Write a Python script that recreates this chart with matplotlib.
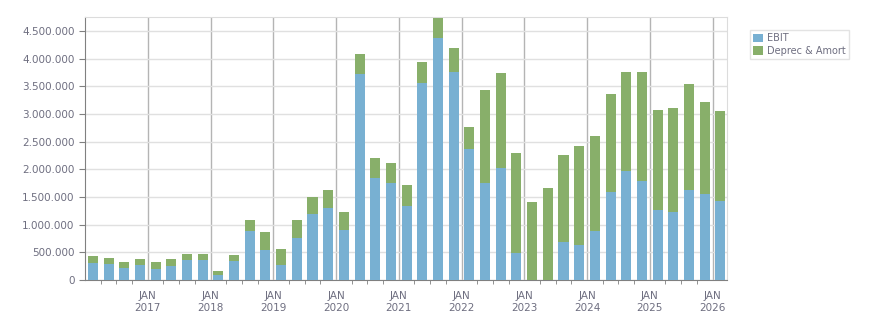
import matplotlib.pyplot as plt
from matplotlib.ticker import FuncFormatter, MultipleLocator
import numpy as np

# quarters Q1 2016 .. Q1 2026
years = [2016] * 4 + [2017] * 4 + [2018] * 4 + [2019] * 4 + [2020] * 4 + \
        [2021] * 4 + [2022] * 4 + [2023] * 4 + [2024] * 4 + [2025] * 4 + [2026]
quarters = [1, 2, 3, 4] * 10 + [1]

ebit = [314, 290, 218, 278, 205, 254, 369, 369, 97, 350,
        894, 544, 278, 767, 1196, 1305, 906, 3722, 1837, 1746,
        1329, 3559, 4375, 3758, 2363, 1746, 2018, 495, 0, 0,
        695, 640, 894, 1583, 1964, 1782, 1257, 1221, 1619, 1547,
        1420]
total = [441, 405, 332, 387, 332, 387, 477, 477, 169, 459,
         1076, 876, 568, 1076, 1492, 1619, 1221, 4085, 2199, 2109,
         1710, 3940, 4737, 4193, 2761, 3432, 3740, 2290, 1402, 1656,
         2254, 2417, 2598, 3360, 3758, 3758, 3069, 3106, 3541, 3215,
         3051]

ebit = np.array(ebit) * 1000
deprec = np.array(total) * 1000 - ebit
x = np.array(years) + (np.array(quarters) - 0.5) / 4

blue = '#78b0d2'
green = '#88af6a'
txt = '#6e6e80'

fig = plt.figure(figsize=(8.76, 3.13), dpi=100)
ax = fig.add_axes([85 / 876, 1 - 280 / 313, (727 - 85) / 876, (280 - 17) / 313])

w = 0.16
ax.bar(x, ebit, width=w, color=blue, label='EBIT', zorder=3)
ax.bar(x, deprec, width=w, bottom=ebit, color=green, label='Deprec & Amort', zorder=3)

ax.set_xlim(2016.0, 2026.23)
ax.set_ylim(0, 4752000)

ax.yaxis.set_major_locator(MultipleLocator(500000))
ax.yaxis.set_major_formatter(FuncFormatter(lambda v, p: f'{int(v):,}'.replace(',', '.')))
ax.set_xticks(range(2017, 2027))
ax.set_xticklabels([f'JAN\n{y}' for y in range(2017, 2027)])
ax.set_xticks(np.arange(2016.25, 2026.2, 0.25), minor=True)

ax.grid(axis='y', color='#e0e0e0', lw=1, zorder=0)
ax.grid(axis='x', which='major', color='#b4b4b4', lw=1, zorder=1)

ax.tick_params(axis='y', colors='#808080', labelcolor=txt, labelsize=7.5, length=4)
ax.tick_params(axis='x', which='major', colors='#b4b4b4', labelcolor=txt, labelsize=7.5, length=0, pad=8)
ax.tick_params(axis='x', which='minor', colors='#808080', length=3)
for s in ['left', 'bottom']:
    ax.spines[s].set_color('#808080')
for s in ['top', 'right']:
    ax.spines[s].set_color('#dcdcdc')

leg = ax.legend(loc='upper left', bbox_to_anchor=(750 / 876, 1 - 30 / 313), bbox_transform=fig.transFigure,
                fontsize=7, frameon=True, fancybox=False, handlelength=1.0, handleheight=1.0,
                handletextpad=0.4, borderpad=0.35, labelspacing=0.25, borderaxespad=0)
leg.get_frame().set_edgecolor('#dcdcdc')
leg.get_frame().set_linewidth(1)
for t in leg.get_texts():
    t.set_color(txt)

plt.savefig('out.png', dpi=100)
